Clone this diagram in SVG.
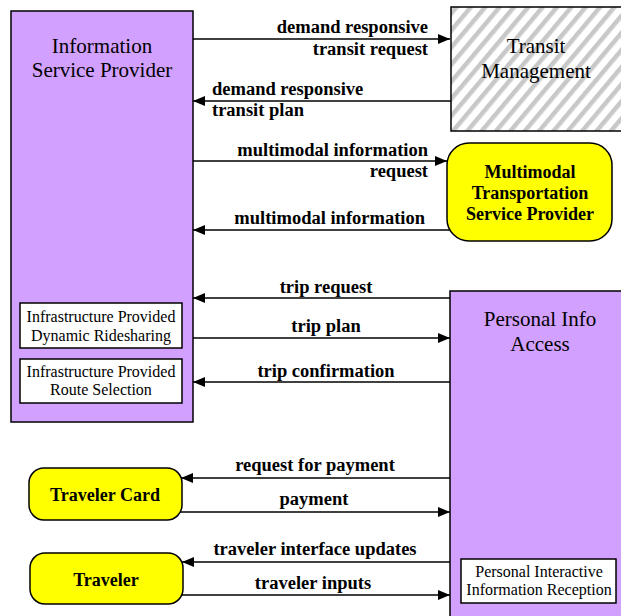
<svg xmlns="http://www.w3.org/2000/svg" width="621" height="616" viewBox="0 0 621 616">
  <style>
    .sub { fill: #D2A0FF; stroke: #000; stroke-width: 1.5; }
    .term { fill: #FFFF00; stroke: #000; stroke-width: 1.5; }
    .inner { fill: #FFFFFF; stroke: #000; stroke-width: 1.5; }
    .hatch { fill: url(#diag); stroke: #000; stroke-width: 1.5; }
    .title { font-family: "Liberation Serif", "Times New Roman", serif; font-size: 21px; fill: #000; text-anchor: middle; }
    .bold { font-family: "Liberation Serif", "Times New Roman", serif; font-size: 18px; font-weight: bold; fill: #000; text-anchor: middle; }
    .small { font-family: "Liberation Serif", "Times New Roman", serif; font-size: 16px; fill: #000; text-anchor: middle; }
    .flow { stroke: #000; stroke-width: 1.5; fill: none; marker-end: url(#head); }
    .lbl { font-family: "Liberation Serif", "Times New Roman", serif; font-size: 18.5px; font-weight: bold; fill: #000; }
  </style>
  <defs>
    <pattern id="diag" patternUnits="userSpaceOnUse" width="11" height="11" patternTransform="rotate(40)">
      <rect width="11" height="11" fill="#FFFFFF"/>
      <rect width="4.5" height="11" fill="#C8C8C8"/>
    </pattern>
    <marker id="head" markerWidth="12" markerHeight="10" refX="12" refY="5" orient="auto" markerUnits="userSpaceOnUse">
      <path d="M0,0 L12,5 L0,10 Z" fill="#000"/>
    </marker>
  </defs>

  <g id="information-service-provider">
    <rect class="sub" x="11" y="11" width="182" height="411"/>
    <text class="title" x="102" y="53">Information</text>
    <text class="title" x="102" y="77">Service Provider</text>
    <rect class="inner" x="20" y="303" width="162" height="45"/>
    <text class="small" x="101" y="322">Infrastructure Provided</text>
    <text class="small" x="101" y="341">Dynamic Ridesharing</text>
    <rect class="inner" x="20" y="359" width="162" height="44"/>
    <text class="small" x="101" y="377">Infrastructure Provided</text>
    <text class="small" x="101" y="395">Route Selection</text>
  </g>

  <g id="transit-management">
    <rect class="hatch" x="451" y="7" width="172" height="124"/>
    <text class="title" x="536" y="53">Transit</text>
    <text class="title" x="536" y="78">Management</text>
  </g>

  <g id="multimodal-transportation-service-provider">
    <rect class="term" x="447" y="143" width="165" height="98" rx="22" ry="22"/>
    <text class="bold" x="530" y="178">Multimodal</text>
    <text class="bold" x="530" y="199">Transportation</text>
    <text class="bold" x="530" y="220">Service Provider</text>
  </g>

  <g id="personal-info-access">
    <rect class="sub" x="450" y="291" width="173" height="327"/>
    <text class="title" x="540" y="326">Personal Info</text>
    <text class="title" x="540" y="351">Access</text>
    <rect class="inner" x="461" y="559" width="155" height="44"/>
    <text class="small" x="539" y="577">Personal Interactive</text>
    <text class="small" x="539" y="595">Information Reception</text>
  </g>

  <g id="traveler-card">
    <rect class="term" x="29" y="468" width="153" height="52" rx="15" ry="15"/>
    <text class="bold" x="105" y="501">Traveler Card</text>
  </g>

  <g id="traveler">
    <rect class="term" x="30" y="553" width="153" height="51" rx="15" ry="15"/>
    <text class="bold" x="106" y="586">Traveler</text>
  </g>

  <g id="connectors">
    <line class="flow" x1="193" y1="39" x2="450" y2="39"/>
    <line class="flow" x1="451" y1="101" x2="193" y2="101"/>
    <line class="flow" x1="193" y1="161" x2="447" y2="161"/>
    <line class="flow" x1="450" y1="230" x2="193" y2="230"/>
    <line class="flow" x1="450" y1="298" x2="193" y2="298"/>
    <line class="flow" x1="193" y1="338" x2="450" y2="338"/>
    <line class="flow" x1="450" y1="382" x2="193" y2="382"/>
    <line class="flow" x1="450" y1="478" x2="181" y2="478"/>
    <line class="flow" x1="180" y1="512" x2="450" y2="512"/>
    <line class="flow" x1="450" y1="562" x2="182" y2="562"/>
    <line class="flow" x1="181" y1="595" x2="450" y2="595"/>

    <text class="lbl" x="428" y="33" text-anchor="end">demand responsive</text>
    <text class="lbl" x="428" y="55" text-anchor="end">transit request</text>
    <text class="lbl" x="212" y="95">demand responsive</text>
    <text class="lbl" x="212" y="116">transit plan</text>
    <text class="lbl" x="428" y="156" text-anchor="end">multimodal information</text>
    <text class="lbl" x="428" y="177" text-anchor="end">request</text>
    <text class="lbl" x="425" y="224" text-anchor="end">multimodal information</text>
    <text class="lbl" x="326" y="293" text-anchor="middle">trip request</text>
    <text class="lbl" x="326" y="332" text-anchor="middle">trip plan</text>
    <text class="lbl" x="326" y="377" text-anchor="middle">trip confirmation</text>
    <text class="lbl" x="315" y="471" text-anchor="middle">request for payment</text>
    <text class="lbl" x="314" y="505" text-anchor="middle">payment</text>
    <text class="lbl" x="315" y="555" text-anchor="middle">traveler interface updates</text>
    <text class="lbl" x="313" y="589" text-anchor="middle">traveler inputs</text>
  </g>
</svg>
